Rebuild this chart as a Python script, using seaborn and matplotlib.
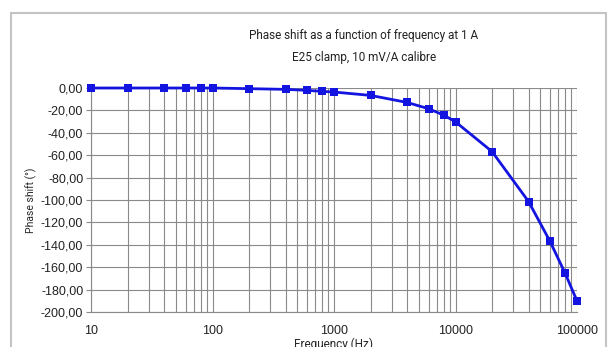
import matplotlib
matplotlib.use("Agg")
import matplotlib.pyplot as plt
import matplotlib.ticker as mticker
from matplotlib.patches import Rectangle
import seaborn as sns
import pandas as pd

frequency_hz = [10, 20, 40, 60, 80, 100, 200, 400, 600, 800, 1000, 2000,
                4000, 6000, 8000, 10000, 20000, 40000, 60000, 80000, 100000]
phase_shift_deg = [0.0, 0.0, 0.0, 0.0, 0.0, 0.0, -0.6, -1.2, -2.1, -3.0, -3.6, -6.6,
                   -12.9, -18.5, -24.2, -30.2, -56.8, -101.5, -137.0, -165.6, -190.1]
y_ticks = [0, -20, -40, -60, -80, -100, -120, -140, -160, -180, -200]
x_ticks = [10, 100, 1000, 10000, 100000]
title_lines = ["Phase shift as a function of frequency at 1 A", "E25 clamp, 10 mV/A calibre"]

df = pd.DataFrame({"f": frequency_hz, "p": phase_shift_deg})

sns.set_theme(style="white")
plt.rcParams['font.family'] = ['Liberation Sans', 'DejaVu Sans']

W, H = 609, 347
fig = plt.figure(figsize=(W / 100, H / 100), dpi=100)
ax = fig.add_axes([91 / W, 1 - 312 / H, (577 - 91) / W, (312 - 88) / H])

# outer frame
fig.patches.append(Rectangle((11 / W, -0.05), (606 - 11) / W, 1 - 13 / H + 0.05,
                             transform=fig.transFigure, fill=False,
                             edgecolor="#c4c4c4", linewidth=1.5))

sns.lineplot(data=df, x="f", y="p", ax=ax, color="#1414e0", linewidth=2.0,
             marker="s", markersize=5.5, markeredgewidth=0, zorder=5, clip_on=False)

ax.set_xscale("log")
ax.set_xlim(10, 100000)
ax.set_ylim(-200, 0)
ax.set_yticks(y_ticks)
ax.yaxis.set_major_formatter(mticker.FuncFormatter(lambda v, p: f"{v:.2f}".replace(".", ",")))
ax.set_xticks(x_ticks)
ax.xaxis.set_major_formatter(mticker.FuncFormatter(lambda v, p: f"{int(v)}"))
ax.xaxis.set_minor_locator(mticker.LogLocator(base=10, subs=range(2, 10)))
ax.xaxis.set_minor_formatter(mticker.NullFormatter())

ax.grid(True, which="both", axis="x", color="#8a8a8a", linewidth=0.8)
ax.grid(True, which="major", axis="y", color="#8a8a8a", linewidth=0.8)
ax.tick_params(axis="x", which="both", length=0, labelsize=9, colors="#222222", pad=9)
ax.tick_params(axis="y", which="both", length=3.5, width=0.8, color="#8a8a8a",
               direction="out", left=True, labelsize=9, labelcolor="#222222", pad=2)
for s in ["top", "right"]:
    ax.spines[s].set_visible(False)
for s in ["left", "bottom"]:
    ax.spines[s].set_color("#8a8a8a")
    ax.spines[s].set_linewidth(0.8)

ax.set_ylabel("Phase shift (°)", fontsize=7.5, family=["Roboto", "DejaVu Sans"], labelpad=3)
ax.set_xlabel("Frequency (Hz)", fontsize=8.5, family=["Roboto", "DejaVu Sans"], labelpad=1)

fig.text(364 / W, 1 - 36 / H, title_lines[0], ha="center", va="center",
         fontsize=8.5, family=["Roboto", "DejaVu Sans"], color="#222222")
fig.text(364 / W, 1 - 57 / H, title_lines[1], ha="center", va="center",
         fontsize=8.5, family=["Roboto", "DejaVu Sans"], color="#222222")

fig.savefig("out.png", dpi=100)
